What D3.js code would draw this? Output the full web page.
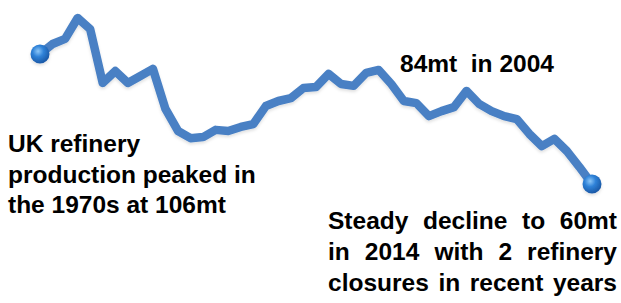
<!DOCTYPE html>
<html>
<head>
<meta charset="utf-8">
<script src="https://cdn.jsdelivr.net/npm/d3@7"></script>
<style>
  html, body { margin: 0; padding: 0; background: #fff; }
  svg { display: block; }
  .note { font-family: Arial, "Liberation Sans", sans-serif; font-weight: bold; font-size: 24.5px; fill: #000; }
</style>
</head>
<body>
<div id="chart"></div>
<script>
// UK refinery production, million tonnes
const years = d3.range(1970, 2015);
const production = [
    96.0, 98.8, 100.2, 106.0, 102.9, 88.0, 91.3, 88.0, 89.9, 91.9,
    80.8, 74.7, 72.7, 73.0, 75.0, 74.7, 75.8, 76.6, 81.6, 83.0,
    83.8, 86.6, 86.9, 90.5, 87.7, 87.2, 90.8, 91.6, 87.7, 83.0,
    82.4, 78.8, 80.2, 81.3, 85.8, 82.2, 80.2, 78.8, 78.0, 73.9,
    70.5, 72.5, 69.1, 64.7, 60.0
];

const leftNote = ["UK refinery", "production peaked in", "the 1970s at 106mt"];
const rightNote = ["Steady decline to 60mt", "in 2014 with 2 refinery", "closures in recent years"];
const peakNote = "84mt  in 2004";

const width = 621, height = 303;

const svg = d3.select("#chart").append("svg")
    .attr("width", width)
    .attr("height", height);

const defs = svg.append("defs");

// soft shadow under the line
const shadow = defs.append("filter")
    .attr("id", "shadow")
    .attr("x", "-10%").attr("y", "-10%")
    .attr("width", "120%").attr("height", "130%");
shadow.append("feDropShadow")
    .attr("dx", 0).attr("dy", 2)
    .attr("stdDeviation", 1.5)
    .attr("flood-color", "#000")
    .attr("flood-opacity", 0.12);

// shiny ball for the end points
const ball = defs.append("radialGradient")
    .attr("id", "ball")
    .attr("cx", "40%").attr("cy", "35%").attr("r", "65%");
ball.append("stop").attr("offset", "0%").attr("stop-color", "#8cc6f7");
ball.append("stop").attr("offset", "45%").attr("stop-color", "#2f82d8");
ball.append("stop").attr("offset", "100%").attr("stop-color", "#1a58a6");

const x = d3.scaleLinear()
    .domain([1970, 2014])
    .range([40, 592]);

const y = d3.scaleLinear()
    .domain([60, 106])
    .range([184, 18]);

const data = years.map((yr, i) => ({ year: yr, value: production[i] }));

const line = d3.line()
    .x(d => x(d.year))
    .y(d => y(d.value));

svg.append("path")
    .datum(data)
    .attr("d", line)
    .attr("fill", "none")
    .attr("stroke", "#4a80c4")
    .attr("stroke-width", 8.5)
    .attr("stroke-linejoin", "round")
    .attr("stroke-linecap", "round")
    .attr("filter", "url(#shadow)");

// start and end dots
svg.selectAll(".dot")
    .data([data[0], data[data.length - 1]])
    .enter()
    .append("circle")
    .attr("class", "dot")
    .attr("cx", d => x(d.year))
    .attr("cy", d => y(d.value))
    .attr("r", 9.5)
    .attr("fill", "url(#ball)")
    .attr("filter", "url(#shadow)");

// left annotation
svg.selectAll(".left-note")
    .data(leftNote)
    .enter()
    .append("text")
    .attr("class", "note left-note")
    .attr("x", 8)
    .attr("y", (d, i) => 152 + i * 30.5)
    .text(d => d);

// peak annotation
svg.append("text")
    .attr("class", "note")
    .attr("x", 400)
    .attr("y", 72)
    .style("white-space", "pre")
    .text(peakNote);

// right annotation, justified between two edges
const jLeft = 328, jRight = 617;
rightNote.forEach((txt, i) => {
    const words = txt.split(" ");
    const g = svg.append("g");
    const nodes = words.map(w => g.append("text")
        .attr("class", "note")
        .attr("y", 229 + i * 31)
        .text(w));
    const widths = nodes.map(n => n.node().getComputedTextLength());
    const total = d3.sum(widths);
    const gap = (jRight - jLeft - total) / (words.length - 1);
    let cx = jLeft;
    nodes.forEach((n, j) => {
        n.attr("x", cx);
        cx += widths[j] + gap;
    });
});
</script>
</body>
</html>
